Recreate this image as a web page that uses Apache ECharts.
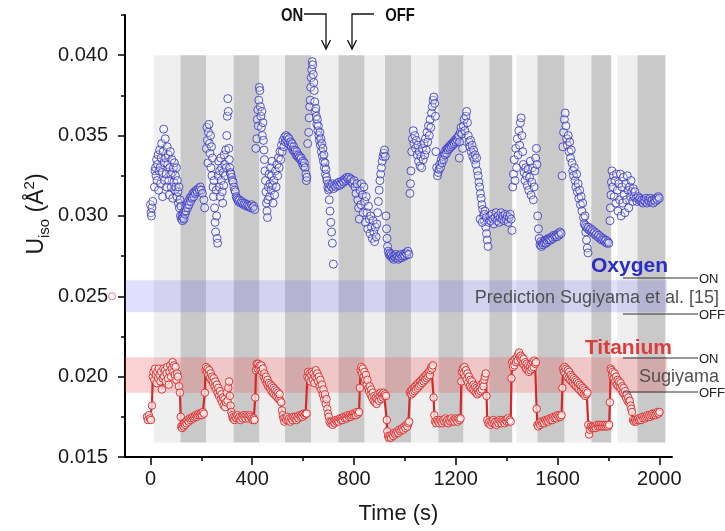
<!DOCTYPE html>
<html><head><meta charset="utf-8">
<script src="https://cdn.jsdelivr.net/npm/echarts@6/dist/echarts.min.js"></script>
<style>html,body{margin:0;padding:0;background:#fff}#c{width:725px;height:531px}</style>
</head><body><div id="c"></div>
<script>
// ---- data ----
const xMajorTicks = [0, 400, 800, 1200, 1600, 2000];
const xMinorTicks = [200, 600, 1000, 1400, 1800];
const yMajorTicks = [0.015, 0.020, 0.025, 0.030, 0.035, 0.040];
const yMinorTicks = [0.0175, 0.0225, 0.0275, 0.0325, 0.0375, 0.0425];

// light-on periods and light-off periods (s)
const onPeriods = [[13,118],[219,327],[428,529],[631,739],[841,922],[1024,1132],[1230,1332],[1438,1521],[1627,1733],[1835,1914]];
const offPeriods = [[118,219],[327,428],[529,631],[739,841],[922,1024],[1132,1230],[1332,1422],[1521,1627],[1733,1811],[1914,2024]];

// predicted ranges (Sugiyama et al.)
const oxygenPrediction = [0.024, 0.026];
const titaniumPrediction = [0.019, 0.0212];

const oxygenUiso = [
[0,0.0307],[2,0.0302],[4,0.0300],[6,0.0305],[9,0.0309],
[16,0.0318],[18,0.0328],[20,0.0330],[22,0.0325],[24,0.0335],[26,0.0322],[28,0.0332],[30,0.0338],[32,0.0316],[34,0.0328],[36,0.0341],[38,0.0330],[40,0.0320],[42,0.0336],[44,0.0345],[46,0.0327],[48,0.0312],[50,0.0340],[52,0.0354],[54,0.0333],[56,0.0322],[58,0.0348],[60,0.0336],[62,0.0326],[64,0.0318],[66,0.0343],[68,0.0332],[70,0.0338],[72,0.0322],[74,0.0313],[76,0.0330],[78,0.0340],[80,0.0326],[82,0.0318],[84,0.0335],[86,0.0327],[88,0.0311],[90,0.0330],[92,0.0321],[94,0.0333],[96,0.0316],[98,0.0325],[100,0.0318],[102,0.0330],[104,0.0312],[106,0.0322],[108,0.0315],[110,0.0308],[112,0.0318],[114,0.0305],[116,0.0310],[118,0.0300],[120,0.0306],[122,0.0298],
[124,0.0300],[126,0.0297],[128,0.0299],[130,0.0302],[132,0.0298],[134,0.0303],[136,0.0301],[138,0.0305],[140,0.0303],[143,0.0307],[146,0.0305],[149,0.0309],[152,0.0307],[155,0.0311],[158,0.0309],[161,0.0312],[164,0.0311],[167,0.0314],[170,0.0312],[173,0.0315],[176,0.0314],[180,0.0316],[184,0.0315],[188,0.0317],[192,0.0316],[196,0.0318],[200,0.0316],[204,0.0314],[210,0.0310],[213,0.0305],
[220,0.0342],[222,0.0355],[224,0.0347],[226,0.0333],[228,0.0352],[230,0.0357],[232,0.0345],[234,0.0339],[236,0.0350],[238,0.0330],[240,0.0343],[242,0.0325],[244,0.0336],[246,0.0318],[248,0.0312],[250,0.0322],[252,0.0305],[254,0.0296],[256,0.0290],[258,0.0316],[260,0.0300],[262,0.0286],[264,0.0283],[266,0.0325],[268,0.0334],[270,0.0318],[272,0.0328],[274,0.0312],[276,0.0336],[278,0.0322],[280,0.0330],[282,0.0315],[284,0.0308],[286,0.0327],[288,0.0319],[290,0.0338],[292,0.0332],[294,0.0325],[296,0.0341],[298,0.0330],[300,0.0350],[302,0.0362],[304,0.0373],[306,0.0365],[308,0.0342],[310,0.0335],[312,0.0330],[314,0.0327],
[316,0.0326],[319,0.0324],[322,0.0322],[325,0.0321],[328,0.0318],[331,0.0316],[334,0.0315],[337,0.0312],[340,0.0311],[343,0.0310],[346,0.0309],[350,0.0310],[354,0.0308],[358,0.0309],[362,0.0308],[366,0.0307],[370,0.0308],[374,0.0307],[378,0.0306],[382,0.0307],[386,0.0306],[390,0.0306],[394,0.0305],[398,0.0307],[402,0.0305],[406,0.0306],[410,0.0304],
[414,0.0342],[418,0.0348],[420,0.0360],[422,0.0366],[424,0.0356],[426,0.0372],[428,0.0380],[430,0.0378],[432,0.0368],[434,0.0362],[436,0.0355],[438,0.0365],[440,0.0350],[442,0.0358],[444,0.0347],[446,0.0341],[448,0.0335],[450,0.0328],[452,0.0322],[454,0.0315],[456,0.0308],[458,0.0303],[460,0.0299],[462,0.0310],[464,0.0318],[466,0.0326],[468,0.0312],[470,0.0320],[472,0.0330],[474,0.0316],[476,0.0325],[478,0.0334],[480,0.0319],[482,0.0308],[485,0.0322],[488,0.0313],[491,0.0328],[494,0.0318],[497,0.0332],[500,0.0325],[503,0.0336],[506,0.0330],[509,0.0340],[512,0.0335],[515,0.0344],[518,0.0340],[521,0.0347],[524,0.0343],
[527,0.0349],[530,0.0346],[533,0.0350],[536,0.0347],[539,0.0349],[542,0.0345],[545,0.0348],[548,0.0344],[551,0.0346],[554,0.0343],[557,0.0345],[560,0.0341],[563,0.0343],[566,0.0340],[569,0.0341],[572,0.0338],[575,0.0340],[578,0.0337],[581,0.0338],[584,0.0336],[587,0.0337],[590,0.0335],[593,0.0336],[596,0.0333],[599,0.0334],[602,0.0331],[605,0.0333],[608,0.0330],[611,0.0326],[613,0.0322],[615,0.0324],
[618,0.0345],[622,0.0352],[624,0.0361],[626,0.0368],[628,0.0372],[630,0.0380],[632,0.0386],[634,0.0391],[636,0.0396],[638,0.0394],[640,0.0388],[642,0.0383],[644,0.0378],[646,0.0371],[648,0.0365],[650,0.0367],[652,0.0362],[654,0.0357],[656,0.0360],[658,0.0353],[660,0.0356],[662,0.0350],[664,0.0347],[666,0.0352],[668,0.0344],[670,0.0348],[672,0.0340],[674,0.0345],[676,0.0337],[678,0.0342],[680,0.0334],[682,0.0338],[684,0.0330],[686,0.0333],[688,0.0326],[690,0.0329],[692,0.0324],
[700,0.0316],[703,0.0310],[706,0.0303],[709,0.0296],[712,0.0290],[715,0.0283],[719,0.0270],
[694,0.0322],[697,0.0318],[700,0.0320],[704,0.0317],[708,0.0319],[712,0.0318],[716,0.0320],[720,0.0317],[724,0.0319],[728,0.0318],[732,0.0320],[736,0.0319],[740,0.0321],[744,0.0319],[748,0.0321],[752,0.0320],[756,0.0322],[760,0.0321],[764,0.0323],[768,0.0322],[772,0.0324],[776,0.0323],[780,0.0324],[784,0.0322],[788,0.0323],[792,0.0321],[796,0.0320],
[800,0.0322],[804,0.0318],[808,0.0314],[812,0.0320],[815,0.0310],[818,0.0305],[821,0.0298],[824,0.0316],[827,0.0307],[830,0.0320],[833,0.0313],[836,0.0302],[839,0.0318],[842,0.0309],[845,0.0296],[848,0.0312],[851,0.0302],[854,0.0292],[857,0.0306],[860,0.0298],[863,0.0289],[866,0.0300],[869,0.0293],[872,0.0286],[875,0.0297],[878,0.0290],[881,0.0284],[884,0.0293],[887,0.0287],[890,0.0295],[893,0.0302],[896,0.0309],[899,0.0316],[902,0.0322],[905,0.0326],[908,0.0330],[911,0.0334],[914,0.0337],[917,0.0339],[920,0.0341],[923,0.0337],
[926,0.0300],[928,0.0292],[930,0.0286],[932,0.0281],[935,0.0278],[938,0.0276],[941,0.0277],[944,0.0275],[947,0.0276],[950,0.0274],[953,0.0275],[956,0.0273],[959,0.0275],[962,0.0274],[965,0.0276],[968,0.0274],[971,0.0275],[974,0.0273],[977,0.0275],[980,0.0274],[984,0.0276],[988,0.0274],[992,0.0275],[996,0.0276],[1000,0.0275],[1004,0.0277],[1008,0.0276],[1012,0.0278],[1016,0.0276],
[1020,0.0314],[1022,0.0320],[1024,0.0328],[1027,0.0340],[1030,0.0348],[1033,0.0353],[1036,0.0345],[1039,0.0350],[1042,0.0342],[1045,0.0347],[1048,0.0338],[1051,0.0344],[1054,0.0334],[1057,0.0340],[1060,0.0331],[1063,0.0337],[1066,0.0330],[1069,0.0342],[1072,0.0335],[1075,0.0345],[1078,0.0338],[1081,0.0348],[1084,0.0341],[1087,0.0352],[1090,0.0346],[1093,0.0356],[1096,0.0350],[1099,0.0360],[1102,0.0355],[1105,0.0364],[1108,0.0368],[1111,0.0372],[1114,0.0374],[1117,0.0370],[1120,0.0362],[1122,0.0340],[1125,0.0330],[1128,0.0325],[1131,0.0327],
[1134,0.0329],[1137,0.0332],[1140,0.0330],[1143,0.0335],[1146,0.0333],[1149,0.0337],[1152,0.0335],[1155,0.0339],[1158,0.0338],[1161,0.0341],[1164,0.0339],[1167,0.0342],[1170,0.0341],[1173,0.0343],[1176,0.0342],[1179,0.0344],[1182,0.0343],[1185,0.0345],[1188,0.0344],[1191,0.0346],[1194,0.0345],[1197,0.0347],[1200,0.0346],[1203,0.0348],[1206,0.0347],[1209,0.0349],[1212,0.0350],[1214,0.0336],[1215,0.0346],[1218,0.0352],[1221,0.0355],[1224,0.0351],[1227,0.0342],
[1230,0.0356],[1233,0.0360],[1236,0.0353],[1240,0.0362],[1243,0.0365],[1246,0.0358],[1249,0.0350],[1252,0.0346],[1255,0.0343],[1258,0.0347],[1261,0.0340],[1264,0.0344],[1267,0.0337],[1270,0.0341],[1273,0.0335],[1276,0.0338],[1279,0.0332],[1282,0.0336],[1285,0.0328],[1288,0.0325],[1291,0.0321],[1294,0.0318],[1297,0.0314],[1300,0.0311],[1303,0.0307],[1306,0.0304],[1309,0.0300],[1312,0.0297],[1315,0.0303],[1318,0.0293],[1321,0.0289],[1324,0.0285],[1327,0.0281],
[1296,0.0298],[1304,0.0296],[1312,0.0301],[1320,0.0299],[1330,0.0296],[1334,0.0300],[1338,0.0297],[1342,0.0301],[1346,0.0298],[1350,0.0295],[1354,0.0299],[1358,0.0302],[1362,0.0297],[1366,0.0300],[1370,0.0296],[1374,0.0299],[1378,0.0302],[1382,0.0298],[1386,0.0300],[1390,0.0297],[1394,0.0301],[1398,0.0298],[1402,0.0300],[1406,0.0296],[1410,0.0299],[1414,0.0301],[1418,0.0298],
[1421,0.0291],[1424,0.0318],[1427,0.0326],[1430,0.0335],[1433,0.0322],[1436,0.0342],[1439,0.0330],[1442,0.0348],[1445,0.0338],[1448,0.0353],[1451,0.0344],[1454,0.0358],[1457,0.0361],[1460,0.0350],[1463,0.0340],[1466,0.0332],[1469,0.0327],[1472,0.0322],[1475,0.0330],[1478,0.0325],[1481,0.0319],[1484,0.0329],[1487,0.0316],[1490,0.0324],[1493,0.0334],[1496,0.0313],[1499,0.0321],[1502,0.0330],[1505,0.0310],[1508,0.0318],[1511,0.0328],[1514,0.0336],[1517,0.0342],[1519,0.0332],
[1522,0.0300],[1525,0.0292],[1528,0.0286],[1531,0.0282],[1534,0.0284],[1537,0.0281],[1540,0.0283],[1543,0.0282],[1546,0.0284],[1549,0.0283],[1552,0.0285],[1555,0.0283],[1558,0.0285],[1561,0.0284],[1564,0.0286],[1567,0.0285],[1570,0.0286],[1574,0.0285],[1578,0.0287],[1582,0.0286],[1586,0.0288],[1590,0.0287],[1594,0.0288],[1598,0.0287],[1602,0.0289],[1606,0.0288],[1610,0.0290],[1614,0.0289],
[1618,0.0325],[1621,0.0343],[1624,0.0352],[1627,0.0360],[1630,0.0364],[1633,0.0356],[1636,0.0348],[1639,0.0344],[1642,0.0350],[1645,0.0340],[1648,0.0346],[1651,0.0336],[1654,0.0341],[1657,0.0333],[1660,0.0328],[1663,0.0325],[1666,0.0330],[1669,0.0322],[1672,0.0318],[1675,0.0326],[1678,0.0315],[1681,0.0320],[1684,0.0311],[1687,0.0316],[1690,0.0307],[1693,0.0312],[1696,0.0303],[1699,0.0308],[1702,0.0299],[1705,0.0295],[1708,0.0300],[1711,0.0290],[1714,0.0285],[1717,0.0280],[1720,0.0277],
[1710,0.0294],[1714,0.0293],[1718,0.0292],[1722,0.0293],[1726,0.0291],[1730,0.0292],[1734,0.0290],[1738,0.0291],[1742,0.0289],[1746,0.0290],[1750,0.0288],[1754,0.0289],[1758,0.0287],[1762,0.0288],[1766,0.0286],[1770,0.0287],[1774,0.0285],[1778,0.0286],[1782,0.0285],[1786,0.0284],[1790,0.0285],[1794,0.0283],[1798,0.0284],[1802,0.0283],
[1806,0.0297],[1808,0.0305],[1810,0.0313],[1812,0.0321],[1814,0.0328],[1817,0.0318],[1820,0.0325],[1823,0.0312],[1826,0.0322],[1829,0.0308],[1832,0.0326],[1835,0.0316],[1838,0.0303],[1841,0.0320],[1844,0.0310],[1847,0.0326],[1850,0.0300],[1853,0.0318],[1856,0.0308],[1859,0.0324],[1862,0.0313],[1865,0.0302],[1868,0.0320],[1871,0.0310],[1874,0.0325],[1877,0.0316],[1880,0.0305],[1883,0.0318],[1886,0.0312],[1889,0.0322],[1892,0.0315],[1895,0.0309],[1898,0.0317],[1901,0.0312],[1904,0.0315],
[1908,0.0311],[1912,0.0309],[1916,0.0312],[1920,0.0310],[1924,0.0311],[1928,0.0309],[1932,0.0310],[1936,0.0308],[1940,0.0310],[1944,0.0309],[1948,0.0311],[1952,0.0308],[1956,0.0310],[1960,0.0309],[1964,0.0311],[1968,0.0309],[1972,0.0310],[1976,0.0308],[1980,0.0310],[1984,0.0309],[1988,0.0311],[1992,0.0310],[1996,0.0312],[2000,0.0311]
];

const titaniumUiso = [
[-14,0.0175],[-10,0.0173],[-6,0.0176],[-2,0.0174],[2,0.0173],[6,0.0182],[9,0.0200],[12,0.0203],[15,0.0198],[18,0.0205],[21,0.0201],[24,0.0196],[27,0.0203],[30,0.0199],[33,0.0205],[36,0.0201],[39,0.0197],[42,0.0203],[45,0.0192],[48,0.0199],[51,0.0205],[54,0.0200],[57,0.0204],[60,0.0197],[63,0.0202],[66,0.0206],[69,0.0199],[72,0.0195],[75,0.0203],[78,0.0207],[81,0.0200],[84,0.0205],[87,0.0209],[90,0.0203],[93,0.0207],[96,0.0201],[99,0.0206],[102,0.0198],[105,0.0202],[108,0.0200],[112,0.0194],[116,0.0190],[119,0.0175],[121,0.0169],
[124,0.0168],[127,0.0170],[130,0.0169],[133,0.0171],[136,0.0170],[139,0.0172],[142,0.0171],[146,0.0173],[150,0.0172],[154,0.0174],[158,0.0173],[162,0.0174],[166,0.0175],[170,0.0174],[174,0.0175],[178,0.0176],[182,0.0175],[186,0.0176],[190,0.0177],[194,0.0176],[198,0.0177],[202,0.0176],[206,0.0178],[210,0.0177],
[214,0.0190],[216,0.0204],
[219,0.0206],[222,0.0203],[225,0.0205],[228,0.0201],[231,0.0204],[234,0.0199],[237,0.0202],[240,0.0198],[243,0.0200],[246,0.0196],[249,0.0199],[252,0.0194],[255,0.0197],[258,0.0192],[261,0.0195],[264,0.0190],[267,0.0193],[270,0.0188],[273,0.0191],[276,0.0186],[279,0.0189],[282,0.0184],[285,0.0187],[288,0.0182],[291,0.0186],[294,0.0181],[297,0.0184],[300,0.0190],[303,0.0185],[306,0.0193],[309,0.0197],[312,0.0188],[315,0.0182],[318,0.0178],
[321,0.0176],[324,0.0174],[327,0.0175],[330,0.0173],[334,0.0175],[338,0.0174],[342,0.0176],[346,0.0174],[350,0.0175],[354,0.0173],[358,0.0175],[362,0.0174],[366,0.0176],[370,0.0175],[374,0.0174],[378,0.0176],[382,0.0175],[386,0.0174],[390,0.0176],[394,0.0175],[398,0.0174],[402,0.0173],[406,0.0174],[409,0.0173],
[412,0.0187],[415,0.0204],
[418,0.0208],[421,0.0205],[424,0.0208],[427,0.0206],[430,0.0207],[433,0.0204],[436,0.0207],[439,0.0203],[442,0.0205],[445,0.0200],[448,0.0202],[451,0.0198],[454,0.0200],[457,0.0196],[460,0.0198],[463,0.0194],[466,0.0196],[469,0.0193],[472,0.0195],[475,0.0191],[478,0.0194],[481,0.0190],[484,0.0193],[487,0.0189],[490,0.0192],[493,0.0188],[496,0.0191],[499,0.0187],[502,0.0190],[505,0.0186],[508,0.0189],[511,0.0185],[514,0.0184],[517,0.0179],
[520,0.0176],[523,0.0174],[526,0.0172],[530,0.0174],[534,0.0173],[538,0.0175],[542,0.0173],[546,0.0174],[550,0.0172],[554,0.0174],[558,0.0173],[562,0.0175],[566,0.0174],[570,0.0175],[574,0.0173],[578,0.0175],[582,0.0174],[586,0.0176],[590,0.0175],[594,0.0176],[598,0.0175],[602,0.0177],[606,0.0176],[610,0.0177],[614,0.0177],
[617,0.0200],
[620,0.0203],[623,0.0199],[626,0.0202],[629,0.0197],[632,0.0201],[635,0.0203],[638,0.0198],[641,0.0202],[644,0.0196],[647,0.0200],[650,0.0204],[653,0.0199],[656,0.0202],[659,0.0197],[662,0.0200],[665,0.0194],[668,0.0198],[671,0.0192],[674,0.0195],[677,0.0189],[680,0.0192],[683,0.0186],[686,0.0189],[689,0.0183],[692,0.0186],[695,0.0180],[698,0.0177],[701,0.0175],
[704,0.0172],[708,0.0171],[712,0.0172],[716,0.0170],[720,0.0172],[724,0.0171],[728,0.0173],[732,0.0172],[736,0.0173],[740,0.0172],[744,0.0174],[748,0.0173],[752,0.0174],[756,0.0173],[760,0.0175],[764,0.0174],[768,0.0175],[772,0.0174],[776,0.0176],[780,0.0175],[784,0.0176],[788,0.0175],[792,0.0176],[796,0.0177],[800,0.0176],[804,0.0177],[808,0.0176],[812,0.0178],[816,0.0177],[820,0.0178],
[823,0.0193],[826,0.0204],
[829,0.0206],[832,0.0202],[835,0.0205],[838,0.0200],[841,0.0203],[844,0.0198],[847,0.0201],[850,0.0195],[853,0.0198],[856,0.0193],[859,0.0191],[862,0.0194],[865,0.0189],[868,0.0192],[871,0.0187],[874,0.0190],[877,0.0185],[880,0.0188],[883,0.0184],[886,0.0187],[889,0.0183],[892,0.0186],[895,0.0189],[898,0.0185],[901,0.0188],[904,0.0190],[907,0.0186],[910,0.0189],[913,0.0187],[916,0.0190],[919,0.0188],[922,0.0189],[926,0.0188],
[929,0.0173],[931,0.0166],
[934,0.0163],[938,0.0162],[942,0.0163],[946,0.0162],[950,0.0164],[954,0.0163],[958,0.0165],[962,0.0164],[966,0.0165],[970,0.0166],[974,0.0165],[978,0.0167],[982,0.0166],[986,0.0167],[990,0.0168],[994,0.0167],[998,0.0169],[1002,0.0168],[1006,0.0170],[1010,0.0169],[1014,0.0171],[1017,0.0172],
[1020,0.0190],
[1023,0.0191],[1026,0.0189],[1029,0.0192],[1032,0.0190],[1035,0.0193],[1038,0.0191],[1041,0.0194],[1044,0.0192],[1047,0.0195],[1050,0.0193],[1053,0.0196],[1056,0.0194],[1059,0.0197],[1062,0.0195],[1065,0.0198],[1068,0.0196],[1071,0.0199],[1074,0.0197],[1077,0.0200],[1080,0.0198],[1083,0.0201],[1086,0.0199],[1089,0.0202],[1092,0.0200],[1095,0.0203],[1098,0.0201],[1101,0.0204],[1104,0.0206],[1107,0.0205],[1110,0.0207],
[1113,0.0187],[1116,0.0176],
[1119,0.0172],[1123,0.0171],[1127,0.0173],[1131,0.0172],[1135,0.0171],[1139,0.0173],[1143,0.0172],[1147,0.0171],[1151,0.0173],[1155,0.0172],[1159,0.0174],[1163,0.0172],[1167,0.0173],[1171,0.0171],[1175,0.0173],[1179,0.0172],[1183,0.0174],[1187,0.0172],[1191,0.0173],[1195,0.0172],[1199,0.0174],[1203,0.0173],[1207,0.0172],[1211,0.0174],[1215,0.0173],[1219,0.0174],
[1222,0.0197],[1225,0.0203],
[1228,0.0205],[1231,0.0202],[1234,0.0206],[1237,0.0200],[1240,0.0204],[1243,0.0198],[1246,0.0202],[1249,0.0196],[1252,0.0200],[1255,0.0194],[1258,0.0198],[1261,0.0193],[1264,0.0197],[1267,0.0192],[1270,0.0195],[1273,0.0191],[1276,0.0194],[1279,0.0190],[1282,0.0193],[1285,0.0189],[1288,0.0192],[1291,0.0190],[1294,0.0193],[1297,0.0191],[1300,0.0195],[1303,0.0192],[1306,0.0196],[1309,0.0194],[1312,0.0198],[1315,0.0200],[1318,0.0202],
[1321,0.0188],[1324,0.0173],
[1328,0.0171],[1332,0.0172],[1336,0.0170],[1340,0.0172],[1344,0.0171],[1348,0.0173],[1352,0.0171],[1356,0.0172],[1360,0.0170],[1364,0.0172],[1368,0.0171],[1372,0.0173],[1376,0.0172],[1380,0.0171],[1384,0.0173],[1388,0.0172],[1392,0.0171],[1396,0.0173],[1400,0.0172],[1404,0.0174],[1408,0.0172],[1412,0.0173],[1416,0.0172],
[1419,0.0199],[1422,0.0209],
[1425,0.0206],[1428,0.0210],[1431,0.0207],[1434,0.0211],[1437,0.0209],[1440,0.0212],[1443,0.0210],[1446,0.0214],[1449,0.0215],[1452,0.0212],[1455,0.0213],[1458,0.0210],[1461,0.0212],[1464,0.0208],[1467,0.0211],[1470,0.0207],[1473,0.0209],[1476,0.0205],[1479,0.0208],[1482,0.0204],[1485,0.0207],[1488,0.0203],[1491,0.0206],[1494,0.0204],[1497,0.0208],[1500,0.0205],[1503,0.0209],[1506,0.0206],[1509,0.0210],[1512,0.0208],[1515,0.0209],
[1518,0.0180],[1521,0.0170],
[1524,0.0169],[1528,0.0171],[1532,0.0170],[1536,0.0172],[1540,0.0171],[1544,0.0172],[1548,0.0171],[1552,0.0173],[1556,0.0172],[1560,0.0173],[1564,0.0172],[1568,0.0174],[1572,0.0173],[1576,0.0174],[1580,0.0173],[1584,0.0175],[1588,0.0174],[1592,0.0175],[1596,0.0174],[1600,0.0176],[1604,0.0175],[1608,0.0176],[1612,0.0175],[1616,0.0176],
[1619,0.0193],[1622,0.0205],
[1625,0.0203],[1628,0.0206],[1631,0.0202],[1634,0.0205],[1637,0.0200],[1640,0.0204],[1643,0.0199],[1646,0.0203],[1649,0.0198],[1652,0.0201],[1655,0.0197],[1658,0.0200],[1661,0.0196],[1664,0.0199],[1667,0.0195],[1670,0.0198],[1673,0.0194],[1676,0.0197],[1679,0.0193],[1682,0.0196],[1685,0.0192],[1688,0.0195],[1691,0.0191],[1694,0.0194],[1697,0.0190],[1700,0.0193],[1703,0.0189],[1706,0.0192],[1709,0.0188],[1712,0.0191],[1715,0.0189],[1718,0.0190],
[1721,0.0170],[1724,0.0164],
[1727,0.0167],[1731,0.0169],[1735,0.0168],[1739,0.0169],[1743,0.0168],[1747,0.0169],[1751,0.0168],[1755,0.0170],[1759,0.0169],[1763,0.0170],[1767,0.0169],[1771,0.0170],[1775,0.0169],[1779,0.0170],[1783,0.0169],[1787,0.0170],[1791,0.0169],[1795,0.0170],[1799,0.0169],[1803,0.0170],
[1806,0.0184],[1809,0.0205],
[1812,0.0204],[1815,0.0201],[1818,0.0203],[1821,0.0199],[1824,0.0202],[1827,0.0197],[1830,0.0200],[1833,0.0195],[1836,0.0198],[1839,0.0194],[1842,0.0197],[1845,0.0193],[1848,0.0196],[1851,0.0192],[1854,0.0194],[1857,0.0190],[1860,0.0193],[1863,0.0189],[1866,0.0191],[1869,0.0187],[1872,0.0189],[1875,0.0185],[1878,0.0187],[1881,0.0184],[1884,0.0185],[1887,0.0182],[1890,0.0180],[1893,0.0178],
[1897,0.0173],[1901,0.0172],[1905,0.0173],[1909,0.0172],[1913,0.0173],[1917,0.0174],[1921,0.0173],[1925,0.0174],[1929,0.0173],[1933,0.0175],[1937,0.0174],[1941,0.0175],[1945,0.0174],[1949,0.0175],[1953,0.0176],[1957,0.0175],[1961,0.0176],[1965,0.0175],[1969,0.0176],[1973,0.0177],[1977,0.0176],[1981,0.0177],[1985,0.0176],[1989,0.0177],[1993,0.0178],[1997,0.0177],[2001,0.0178]
];
const titaniumStray = [[-151, 0.0250]];

// ---- chart ----
const FONT = "Liberation Sans, Arial, sans-serif";
const bandTop = 0.040, bandBottom = 0.0159;
const hBandX = [-100, 2030];

const chart = echarts.init(document.getElementById('c'), null, {renderer: 'canvas'});

function bandItem(color) {
  return function (params, api) {
    const p0 = api.coord([api.value(0), bandTop]);
    const p1 = api.coord([api.value(1), bandBottom]);
    return {type: 'rect', shape: {x: p0[0], y: p0[1], width: p1[0] - p0[0], height: p1[1] - p0[1]},
      style: {fill: color}, silent: true};
  };
}
function hBandItem(params, api) {
  const p0 = api.coord([hBandX[0], api.value(1)]);
  const p1 = api.coord([hBandX[1], api.value(0)]);
  const fill = api.value(2) === 0 ? 'rgba(100,100,245,0.2)' : 'rgba(240,70,70,0.24)';
  return {type: 'rect', shape: {x: p0[0], y: p0[1], width: p1[0] - p0[0], height: p1[1] - p0[1]},
    style: {fill: fill}, silent: true};
}

const lineStyle = {stroke: '#333', lineWidth: 1};
const option = {
  animation: false,
  grid: {left: 125, right: 53, top: 15, bottom: 74, containLabel: false},
  xAxis: [{
    type: 'value', min: -100, max: 2050,
    axisLine: {onZero: false, lineStyle: {color: '#000', width: 2}},
    axisTick: {customValues: xMajorTicks, length: 8, lineStyle: {color: '#000', width: 1.5}},
    axisLabel: {customValues: xMajorTicks, fontSize: 20, color: '#1a1a1a', fontFamily: FONT, margin: 12,
      formatter: v => String(v)},
    splitLine: {show: false},
    name: 'Time (s)', nameLocation: 'middle', nameGap: 46,
    nameTextStyle: {fontSize: 22, color: '#1a1a1a', fontFamily: FONT}
  }, {
    type: 'value', min: -100, max: 2050, position: 'bottom',
    axisLine: {show: false, onZero: false},
    axisTick: {customValues: xMinorTicks, length: 4, lineStyle: {color: '#000', width: 1.5}},
    axisLabel: {show: false}, splitLine: {show: false}
  }],
  yAxis: [{
    type: 'value', min: 0.015, max: 0.0425,
    axisLine: {show: true, onZero: false, lineStyle: {color: '#000', width: 2}},
    axisTick: {show: true, customValues: yMajorTicks, length: 7, lineStyle: {color: '#000', width: 1.5}},
    axisLabel: {customValues: yMajorTicks, fontSize: 20, color: '#1a1a1a', fontFamily: FONT, margin: 17,
      formatter: v => v.toFixed(3)},
    splitLine: {show: false}
  }, {
    type: 'value', min: 0.015, max: 0.0425, position: 'left',
    axisLine: {show: false, onZero: false},
    axisTick: {show: true, customValues: yMinorTicks, length: 4, lineStyle: {color: '#000', width: 1.5}},
    axisLabel: {show: false}, splitLine: {show: false}
  }],
  series: [
    {type: 'custom', name: 'on', renderItem: bandItem('#efefef'), data: onPeriods,
      encode: {x: [0, 1]}, z: 1, silent: true},
    {type: 'custom', name: 'off', renderItem: bandItem('#c9c9c9'), data: offPeriods,
      encode: {x: [0, 1]}, z: 1, silent: true},
    {type: 'custom', name: 'prediction', renderItem: hBandItem,
      data: [[oxygenPrediction[0], oxygenPrediction[1], 0], [titaniumPrediction[0], titaniumPrediction[1], 1]],
      encode: {y: [0, 1]}, z: 2, silent: true},
    {type: 'line', name: 'Titanium', data: titaniumUiso, symbol: 'circle', symbolSize: 7.5, showAllSymbol: true,
      lineStyle: {color: '#d62828', width: 2.2},
      itemStyle: {color: 'rgba(255,238,238,0.75)', borderColor: '#dc3434', borderWidth: 1}, z: 4},
    {type: 'scatter', name: 'TiStray', data: titaniumStray, clip: false, symbolSize: 7,
      itemStyle: {color: 'rgba(255,255,255,0.6)', borderColor: '#e06060', borderWidth: 1}, z: 4},
    {type: 'scatter', name: 'Oxygen', data: oxygenUiso, symbolSize: 8,
      itemStyle: {color: 'rgba(255,255,255,0.35)', borderColor: '#3030c0', borderWidth: 1}, z: 5}
  ],
  graphic: [
    {type: 'text', x: 37, y: 214, rotation: Math.PI / 2, z: 10,
      style: {text: '{a|U}{b|iso}{a| (Å}{c|2}{a|)}', align: 'center', verticalAlign: 'middle',
        rich: {
          a: {fontSize: 23, fontFamily: FONT, fill: '#1a1a1a', lineHeight: 30, verticalAlign: 'middle'},
          b: {fontSize: 15, fontFamily: FONT, fill: '#1a1a1a', lineHeight: 14, verticalAlign: 'bottom'},
          c: {fontSize: 15, fontFamily: FONT, fill: '#1a1a1a', lineHeight: 14, verticalAlign: 'top'}
        }}},
    // top ON / OFF arrows
    {type: 'text', x: 292, y: 16, scaleX: 0.78, z: 10, style: {text: 'ON', font: 'bold 19px ' + FONT, fill: '#111', align: 'center', verticalAlign: 'middle'}},
    {type: 'polyline', z: 10, shape: {points: [[304, 14], [326, 14], [326, 49]]}, style: {stroke: '#111', lineWidth: 1.3, fill: null}},
    {type: 'polyline', z: 10, shape: {points: [[321.5, 40], [326, 49], [330.5, 40]]}, style: {stroke: '#111', lineWidth: 1.3, fill: null}},
    {type: 'text', x: 400, y: 16, scaleX: 0.78, z: 10, style: {text: 'OFF', font: 'bold 19px ' + FONT, fill: '#111', align: 'center', verticalAlign: 'middle'}},
    {type: 'polyline', z: 10, shape: {points: [[374, 14], [352, 14], [352, 49]]}, style: {stroke: '#111', lineWidth: 1.3, fill: null}},
    {type: 'polyline', z: 10, shape: {points: [[347.5, 40], [352, 49], [356.5, 40]]}, style: {stroke: '#111', lineWidth: 1.3, fill: null}},
    // right annotations
    {type: 'text', x: 668, y: 266, z: 10, style: {text: 'Oxygen', font: 'bold 21px ' + FONT, fill: '#2c2cc8', align: 'right', verticalAlign: 'middle'}},
    {type: 'text', x: 719, y: 298, z: 10, style: {text: 'Prediction Sugiyama et al. [15]', font: '18px ' + FONT, fill: '#505050', align: 'right', verticalAlign: 'middle'}},
    {type: 'text', x: 672, y: 348, z: 10, style: {text: 'Titanium', font: 'bold 21px ' + FONT, fill: '#e03a3a', align: 'right', verticalAlign: 'middle'}},
    {type: 'text', x: 719, y: 377, z: 10, style: {text: 'Sugiyama', font: '18px ' + FONT, fill: '#505050', align: 'right', verticalAlign: 'middle'}},
    {type: 'line', z: 10, shape: {x1: 623, y1: 278, x2: 698, y2: 278}, style: lineStyle},
    {type: 'line', z: 10, shape: {x1: 623, y1: 314, x2: 698, y2: 314}, style: lineStyle},
    {type: 'line', z: 10, shape: {x1: 623, y1: 358, x2: 698, y2: 358}, style: lineStyle},
    {type: 'line', z: 10, shape: {x1: 623, y1: 392, x2: 698, y2: 392}, style: lineStyle},
    {type: 'text', x: 699, y: 279, z: 10, style: {text: 'ON', font: '13px ' + FONT, fill: '#222', align: 'left', verticalAlign: 'middle'}},
    {type: 'text', x: 699, y: 315, z: 10, style: {text: 'OFF', font: '13px ' + FONT, fill: '#222', align: 'left', verticalAlign: 'middle'}},
    {type: 'text', x: 699, y: 359, z: 10, style: {text: 'ON', font: '13px ' + FONT, fill: '#222', align: 'left', verticalAlign: 'middle'}},
    {type: 'text', x: 699, y: 393, z: 10, style: {text: 'OFF', font: '13px ' + FONT, fill: '#222', align: 'left', verticalAlign: 'middle'}}
  ]
};
chart.setOption(option);
</script></body></html>
